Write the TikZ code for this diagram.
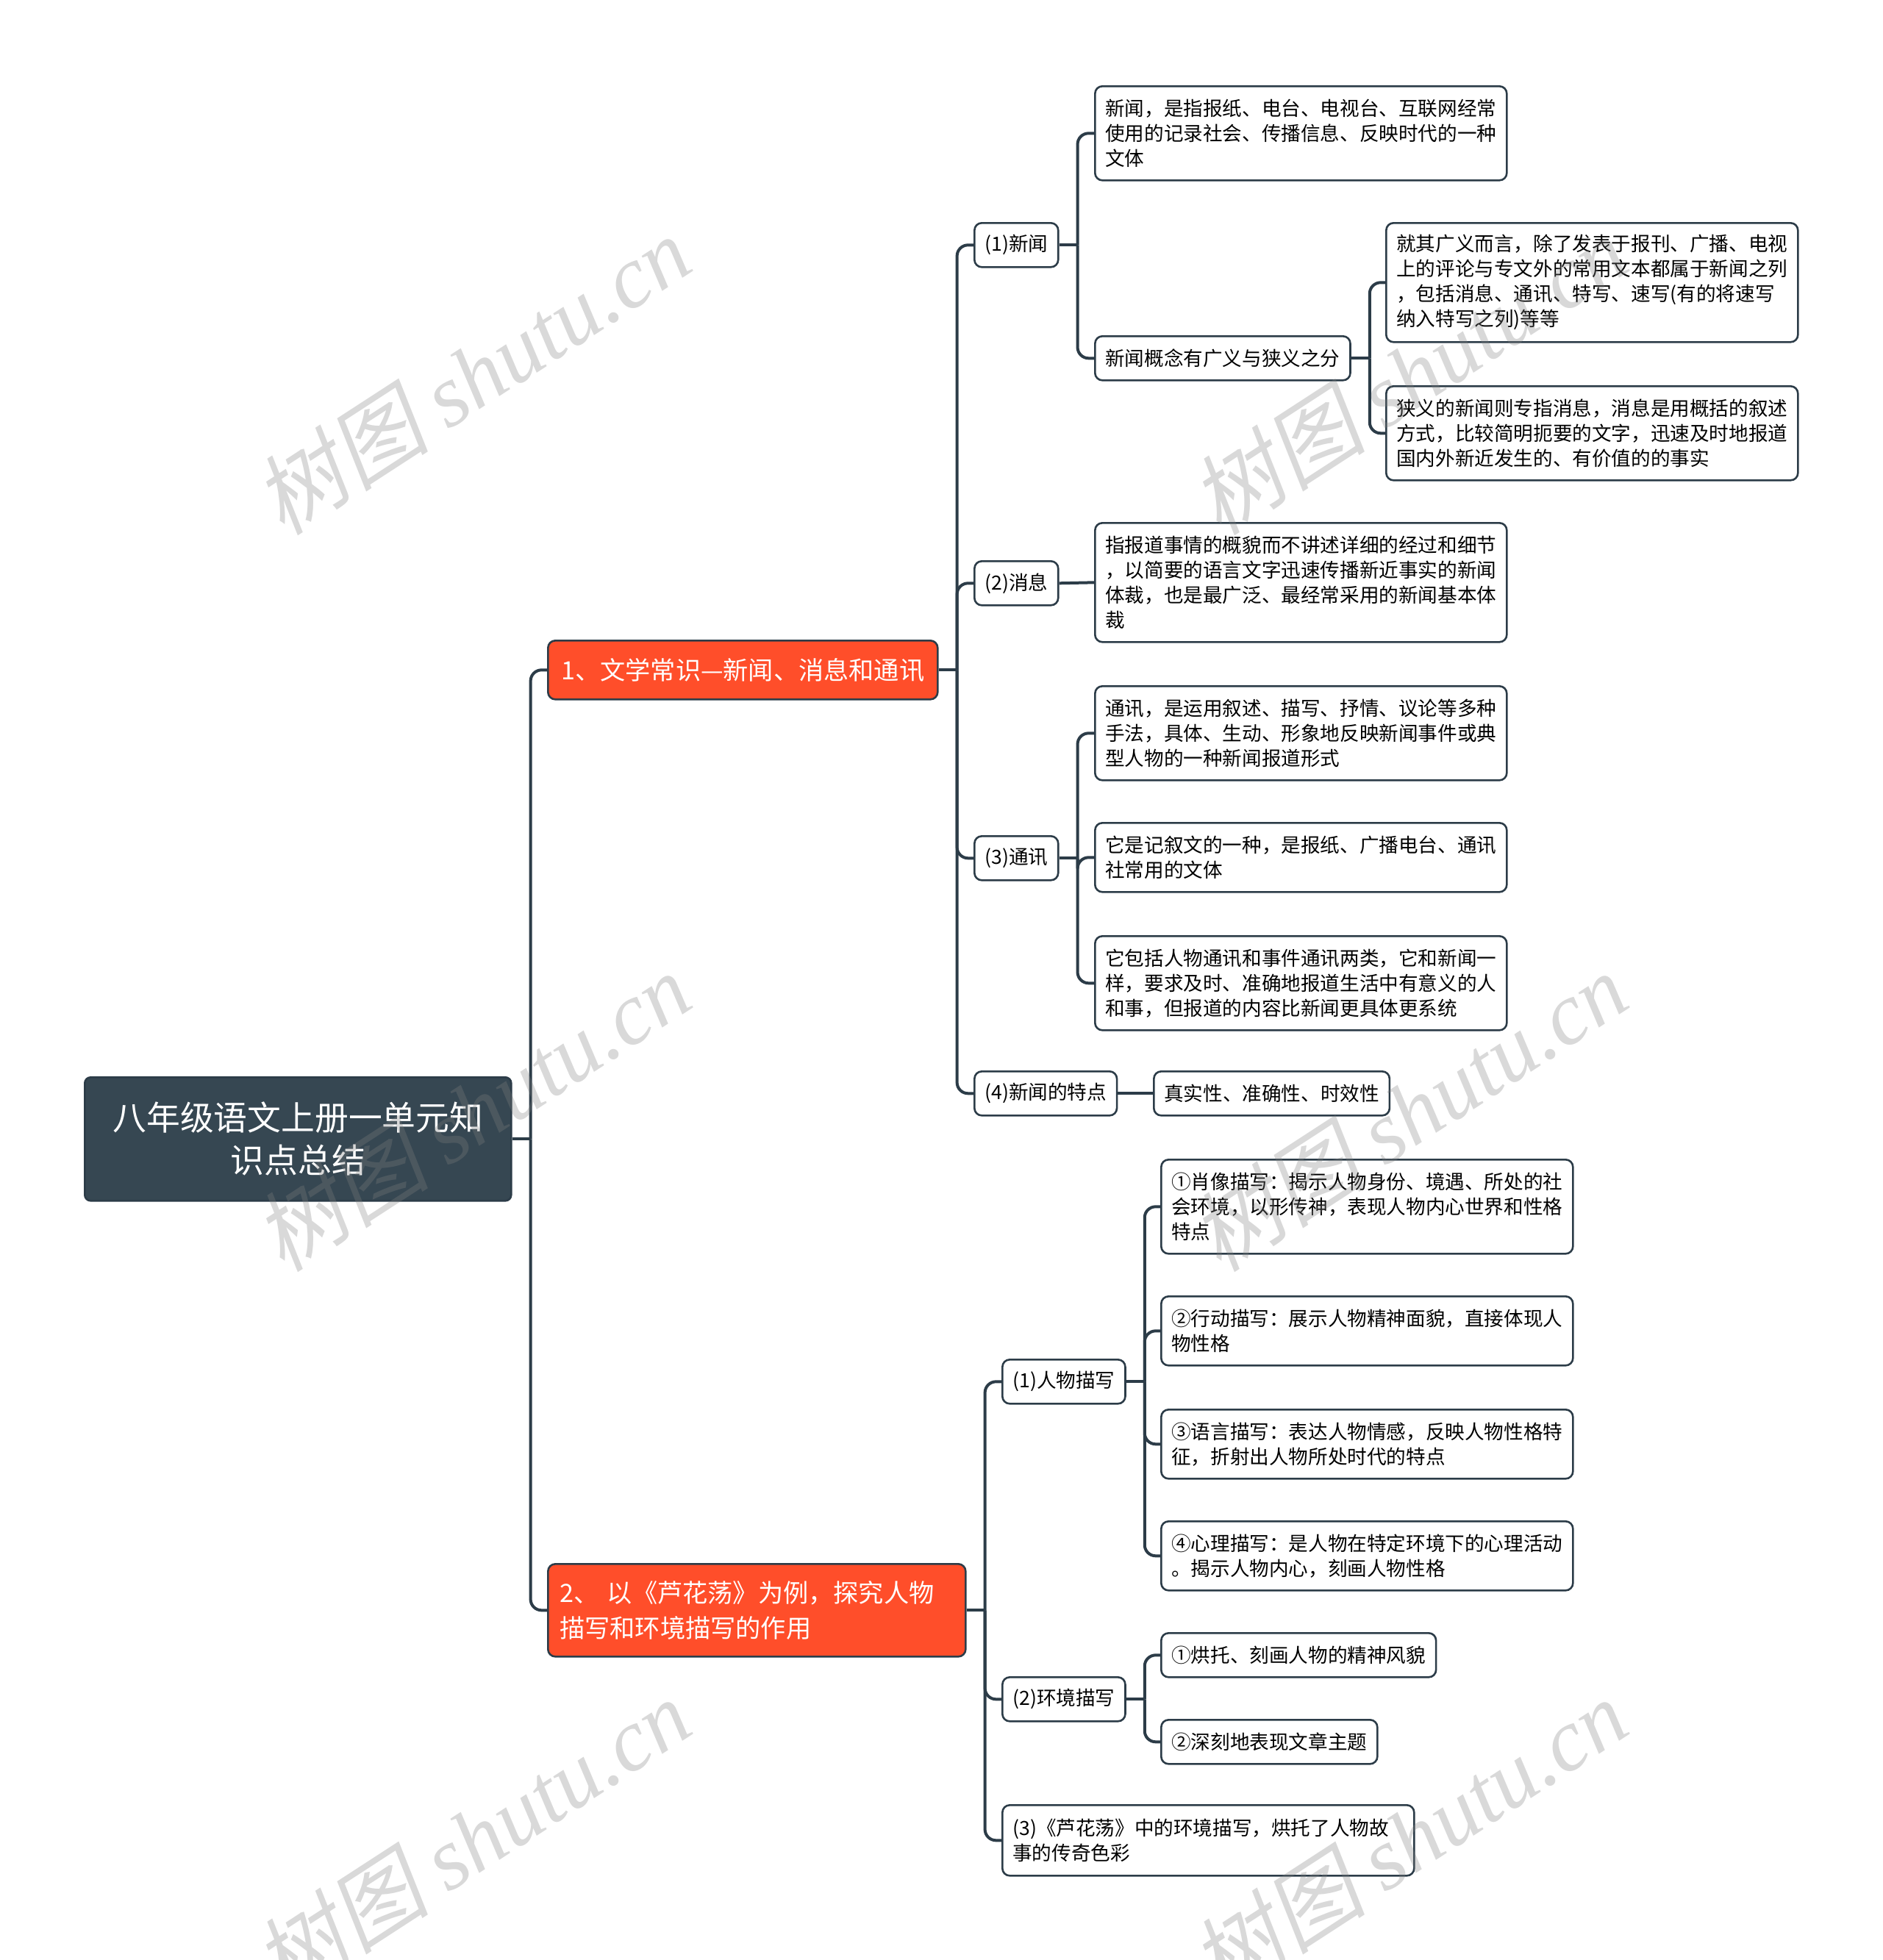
\documentclass[tikz,border=0pt]{standalone}
\usepackage{fontspec}
\setmainfont{Noto Sans CJK SC}
\newfontfamily\wmlatin{Liberation Serif}
\newfontfamily\wmcjk[FakeSlant=0.2]{Noto Sans CJK SC}

\definecolor{slate}{RGB}{54,71,82}
\definecolor{lineslate}{RGB}{44,60,72}
\definecolor{redorange}{RGB}{255,78,42}

\tikzset{
  conn/.style={draw=lineslate, line width=2pt},
  elbow/.style={conn, rounded corners=7.5pt},
  rootbox/.style={fill=slate, draw=lineslate, line width=1.3pt, rounded corners=4pt, text=white, anchor=north west,
    align=center, minimum width=290pt, minimum height=84pt,
    font=\fontsize{22.9}{29}\selectfont},
  mainbox/.style={fill=redorange, draw=lineslate, line width=1.3pt, rounded corners=5pt, text=white,
    anchor=north west, inner xsep=8pt, font=\fontsize{17.1}{24}\selectfont},
  subbox/.style={fill=white, draw=lineslate, line width=1.3pt, rounded corners=5pt, anchor=north west,
    inner xsep=7pt, minimum height=30pt, font=\fontsize{13.3}{17}\selectfont},
  leafbox/.style={subbox, align=left},
  wmark/.style={text=gray, opacity=.3, rotate=33, inner sep=0pt}
}

\begin{document}
\begin{tikzpicture}[x=1pt,y=-1pt]
    \useasboundingbox (0,0) rectangle (1280,1333);

    % root and the two main topics
    \node [rootbox] (root) at (57,732) {八年级语文上册一单元知\\识点总结};
    \node [mainbox, minimum width=265pt, minimum height=40pt] (news) at (372,435) {1、文学常识—新闻、消息和通讯};
    \node [mainbox, minimum height=63pt, text width=268pt, align=left] (lhd) at (372,1063) {2、 以《芦花荡》为例，探究人物\\描写和环境描写的作用};

    % topic 1
    \node [subbox] (xinwen) at (662,151) {(1)新闻};
    \node [subbox] (xiaoxi) at (662,381) {(2)消息};
    \node [subbox] (tongxun) at (662,568) {(3)通讯};
    \node [subbox] (tedian) at (662,728) {(4)新闻的特点};
    \node [subbox] (tedianA) at (784,728) {真实性、准确性、时效性};

    \node [leafbox, text width=266pt, minimum height=64pt] (xinwenA) at (744,58) {新闻，是指报纸、电台、电视台、互联网经常\\使用的记录社会、传播信息、反映时代的一种\\文体};
    \node [subbox] (gainian) at (744,228) {新闻概念有广义与狭义之分};
    \node [leafbox, text width=266pt, minimum height=81pt] (guangyi) at (942,151) {就其广义而言，除了发表于报刊、广播、电视\\上的评论与专文外的常用文本都属于新闻之列\\，包括消息、通讯、特写、速写(有的将速写\\纳入特写之列)等等};
    \node [leafbox, text width=266pt, minimum height=64pt] (xiayi) at (942,262) {狭义的新闻则专指消息，消息是用概括的叙述\\方式，比较简明扼要的文字，迅速及时地报道\\国内外新近发生的、有价值的的事实};

    \node [leafbox, text width=266pt, minimum height=81pt] (xiaoxiA) at (744,355) {指报道事情的概貌而不讲述详细的经过和细节\\，以简要的语言文字迅速传播新近事实的新闻\\体裁，也是最广泛、最经常采用的新闻基本体\\裁};

    \node [leafbox, text width=266pt, minimum height=64pt] (tongxunA) at (744,466) {通讯，是运用叙述、描写、抒情、议论等多种\\手法，具体、生动、形象地反映新闻事件或典\\型人物的一种新闻报道形式};
    \node [leafbox, text width=266pt, minimum height=47pt] (tongxunB) at (744,559) {它是记叙文的一种，是报纸、广播电台、通讯\\社常用的文体};
    \node [leafbox, text width=266pt, minimum height=64pt] (tongxunC) at (744,636) {它包括人物通讯和事件通讯两类，它和新闻一\\样，要求及时、准确地报道生活中有意义的人\\和事，但报道的内容比新闻更具体更系统};

    % topic 2
    \node [subbox] (renwu) at (681,924) {(1)人物描写};
    \node [subbox] (huanjing) at (681,1140) {(2)环境描写};
    \node [leafbox, text width=266pt, minimum height=48pt] (luhua) at (681,1227) {(3)《芦花荡》中的环境描写，烘托了人物故\\事的传奇色彩};

    \node [leafbox, text width=266pt, minimum height=64pt] (renwuA) at (789,788) {①肖像描写：揭示人物身份、境遇、所处的社\\会环境，以形传神，表现人物内心世界和性格\\特点};
    \node [leafbox, text width=266pt, minimum height=47pt] (renwuB) at (789,881) {②行动描写：展示人物精神面貌，直接体现人\\物性格};
    \node [leafbox, text width=266pt, minimum height=47pt] (renwuC) at (789,958) {③语言描写：表达人物情感，反映人物性格特\\征，折射出人物所处时代的特点};
    \node [leafbox, text width=266pt, minimum height=47pt] (renwuD) at (789,1034) {④心理描写：是人物在特定环境下的心理活动\\。揭示人物内心，刻画人物性格};

    \node [subbox] (huanjingA) at (789,1110) {①烘托、刻画人物的精神风貌};
    \node [subbox] (huanjingB) at (789,1169) {②深刻地表现文章主题};

    % connectors
    \draw [conn] (root.east) -- ++(12.5,0) coordinate (jroot);
    \draw [elbow] (jroot) |- (news.west);
    \draw [elbow] (jroot) |- (lhd.west);

    \draw [conn] (news.east) -- ++(12.5,0) coordinate (jnews);
    \draw [elbow] (jnews) |- (xinwen.west);
    \draw [elbow] (jnews) |- (xiaoxi.west);
    \draw [elbow] (jnews) |- (tongxun.west);
    \draw [elbow] (jnews) |- (tedian.west);

    \draw [conn] (xinwen.east) -- ++(12.5,0) coordinate (jxinwen);
    \draw [elbow] (jxinwen) |- (xinwenA.west);
    \draw [elbow] (jxinwen) |- (gainian.west);

    \draw [conn] (gainian.east) -- ++(12.5,0) coordinate (jgainian);
    \draw [elbow] (jgainian) |- (guangyi.west);
    \draw [elbow] (jgainian) |- (xiayi.west);

    \draw [conn] (xiaoxi.east) -- (xiaoxiA.west);

    \draw [conn] (tongxun.east) -- ++(12.5,0) coordinate (jtongxun);
    \draw [elbow] (jtongxun) |- (tongxunA.west);
    \draw [elbow] (jtongxun) |- (tongxunB.west);
    \draw [elbow] (jtongxun) |- (tongxunC.west);

    \draw [conn] (tedian.east) -- (tedianA.west);

    \draw [conn] (lhd.east) -- ++(12.5,0) coordinate (jlhd);
    \draw [elbow] (jlhd) |- (renwu.west);
    \draw [elbow] (jlhd) |- (huanjing.west);
    \draw [elbow] (jlhd) |- (luhua.west);

    \draw [conn] (renwu.east) -- ++(12.5,0) coordinate (jrenwu);
    \draw [elbow] (jrenwu) |- (renwuA.west);
    \draw [elbow] (jrenwu) |- (renwuB.west);
    \draw [elbow] (jrenwu) |- (renwuC.west);
    \draw [elbow] (jrenwu) |- (renwuD.west);

    \draw [conn] (huanjing.east) -- ++(12.5,0) coordinate (jhuanjing);
    \draw [elbow] (jhuanjing) |- (huanjingA.west);
    \draw [elbow] (jhuanjing) |- (huanjingB.west);

    % watermarks
    \node [wmark] (wm1) at (321,255) {\fontsize{60}{64}\selectfont\wmcjk 树图 \wmlatin\itshape shutu.cn};
    \node [wmark] (wm2) at (321,756) {\fontsize{60}{64}\selectfont\wmcjk 树图 \wmlatin\itshape shutu.cn};
    \node [wmark] (wm3) at (321,1250) {\fontsize{60}{64}\selectfont\wmcjk 树图 \wmlatin\itshape shutu.cn};
    \node [wmark] (wm4) at (958,255) {\fontsize{60}{64}\selectfont\wmcjk 树图 \wmlatin\itshape shutu.cn};
    \node [wmark] (wm5) at (958,756) {\fontsize{60}{64}\selectfont\wmcjk 树图 \wmlatin\itshape shutu.cn};
    \node [wmark] (wm6) at (958,1250) {\fontsize{60}{64}\selectfont\wmcjk 树图 \wmlatin\itshape shutu.cn};
\end{tikzpicture}
\end{document}
